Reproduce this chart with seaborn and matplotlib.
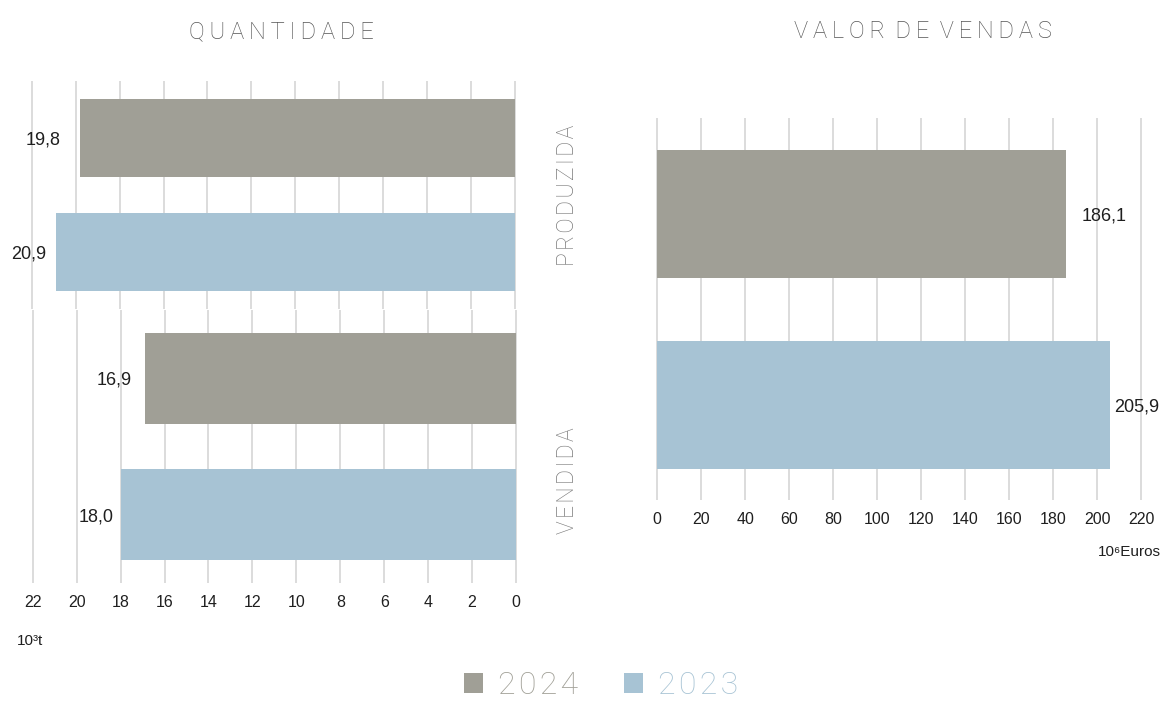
import matplotlib
matplotlib.use("Agg")
import matplotlib.pyplot as plt
import seaborn as sns
import pandas as pd
from matplotlib.patches import Patch

# ---- data ----
years = ["2024", "2023"]
qty_produzida = [19.8, 20.9]      # 10^3 t
qty_vendida = [16.9, 18.0]        # 10^3 t
valor_vendas = [186.1, 205.9]     # 10^6 Euros
qty_ticks = [22, 20, 18, 16, 14, 12, 10, 8, 6, 4, 2, 0]
valor_ticks = [0, 20, 40, 60, 80, 100, 120, 140, 160, 180, 200, 220]

# ---- style ----
GRAY = "#A09F96"
BLUE = "#A7C3D4"
GRID = "#D9D9D9"
TEXT = "#1F1F1F"
LIGHT_FONT = ["Roboto", "DejaVu Sans"]

sns.set_theme(style="white")
plt.rcParams["font.family"] = ["Liberation Sans", "DejaVu Sans"]

W, H = 1163, 705
fig = plt.figure(figsize=(W / 100, H / 100), dpi=100)


def spaced(s, sep="\u200a"):
    # letter-spaced text; word gaps keep a single extra separator
    return (" " + sep).join(sep.join(w) for w in s.split(" "))


def fmt(v):
    return f"{v:.1f}".replace(".", ",")


def draw_bars(ax, values, width):
    df = pd.DataFrame({"ano": years, "valor": values})
    sns.barplot(data=df, x="valor", y="ano", hue="ano", order=years,
                hue_order=years, palette=[GRAY, BLUE], width=width,
                saturation=1, legend=False, orient="h", linewidth=0,
                edgecolor="none", ax=ax)
    for s in ax.spines.values():
        s.set_visible(False)
    ax.xaxis.grid(True, color=GRID, linewidth=1.3)
    ax.yaxis.grid(False)
    ax.set_axisbelow(True)
    ax.set_yticks([])
    ax.set_ylim(1.5, -0.5)
    ax.set_xlabel("")
    ax.set_ylabel("")
    ax.tick_params(axis="x", length=0, pad=9, labelsize=11.5, labelcolor=TEXT)


def label_bars(ax, values, gaps, side):
    for i, (v, g) in enumerate(zip(values, gaps)):
        dx = -g if side == "left" else g
        ax.annotate(fmt(v), xy=(v, i), xytext=(dx, -1.5),
                    textcoords="offset points", va="center",
                    ha="right" if side == "left" else "left",
                    fontsize=13, color=TEXT)


# ---- QUANTIDADE: produzida (top) and vendida (bottom), reversed x ----
ax_top = fig.add_axes([27.3 / W, 1 - 309 / H, 492.1 / W, 228.3 / H])
draw_bars(ax_top, qty_produzida, 0.68)
ax_top.set_xticks(qty_ticks)
ax_top.set_xlim(22.2, -0.2)
ax_top.tick_params(axis="x", labelbottom=False)
label_bars(ax_top, qty_produzida, [14, 7], "left")

ax_bot = fig.add_axes([28.3 / W, 1 - 582.7 / H, 492.1 / W, 272.7 / H])
draw_bars(ax_bot, qty_vendida, 0.665)
ax_bot.set_xticks(qty_ticks)
ax_bot.set_xticklabels([str(t) for t in qty_ticks])
ax_bot.set_xlim(22.2, -0.2)
label_bars(ax_bot, qty_vendida, [9, 5], "left")

# ---- VALOR DE VENDAS ----
ax_val = fig.add_axes([652.9 / W, 1 - 500 / H, 492.5 / W, 381.7 / H])
draw_bars(ax_val, valor_vendas, 0.67)
ax_val.set_xticks(valor_ticks)
ax_val.set_xticklabels([str(t) for t in valor_ticks])
ax_val.set_xlim(-2, 222)
ax_val.tick_params(axis="x", labelsize=11.5)
label_bars(ax_val, valor_vendas, [11, 3], "right")

# ---- units ----
fig.text(17 / W, 1 - 641 / H, "10\u00b3t", ha="left", va="center",
         fontsize=11, color=TEXT)
fig.text(1161 / W, 1 - 552 / H, "10\u2076Euros", ha="right", va="center",
         fontsize=11, color=TEXT)

# ---- titles ----
fig.text(281 / W, 1 - 38 / H, spaced("QUANTIDADE", "\u2009"), ha="center",
         va="baseline", fontsize=17, color="#555555",
         family=LIGHT_FONT, fontweight="light")
fig.text(923 / W, 1 - 38 / H, spaced("VALOR DE VENDAS", "\u2009"),
         ha="center", va="baseline", fontsize=17, color="#555555",
         family=LIGHT_FONT, fontweight="light")

# ---- row labels ----
fig.text(567 / W, 1 - 195 / H, spaced("PRODUZIDA"), rotation=90,
         ha="center", va="center", fontsize=16.5, color="#7A7A7A",
         family=LIGHT_FONT, fontweight="light")
fig.text(567 / W, 1 - 481 / H, spaced("VENDIDA"), rotation=90,
         ha="center", va="center", fontsize=16.5, color="#7A7A7A",
         family=LIGHT_FONT, fontweight="light")

# ---- legend ----
handles = [Patch(facecolor=GRAY, edgecolor="none"),
           Patch(facecolor=BLUE, edgecolor="none")]
leg = fig.legend(handles, [spaced(y) for y in years], loc="center",
                 bbox_to_anchor=(601 / W, 1 - 686 / H), ncol=2,
                 frameon=False, handlelength=0.6, handleheight=0.6,
                 handletextpad=0.45, columnspacing=1.45, borderpad=0,
                 prop={"family": LIGHT_FONT, "size": 23, "weight": "light"})
for txt, c in zip(leg.get_texts(), [GRAY, BLUE]):
    txt.set_color(c)

fig.savefig("out.png", dpi=100)
